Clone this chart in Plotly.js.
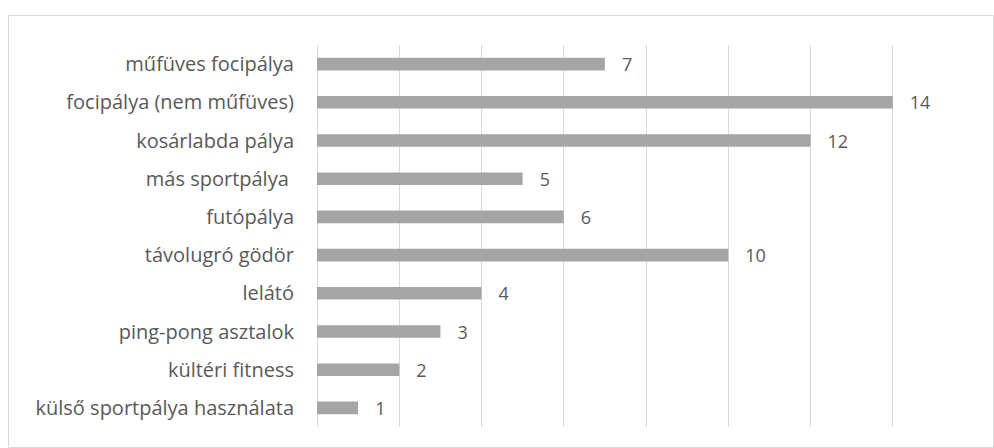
<!DOCTYPE html>
<html>
<head>
<meta charset="utf-8">
<script src="https://cdn.plot.ly/plotly-3.0.1.min.js"></script>
<style>
html,body{margin:0;padding:0;background:#fff;}
#chart{width:994px;height:448px;}
</style>
</head>
<body>
<div id="chart"></div>
<script>
const categories = [
  "műfüves focipálya",
  "focipálya (nem műfüves)",
  "kosárlabda pálya",
  "más sportpálya ",
  "futópálya",
  "távolugró gödör",
  "lelátó",
  "ping-pong asztalok",
  "kültéri fitness",
  "külső sportpálya használata"
];
const values = [7, 14, 12, 5, 6, 10, 4, 3, 2, 1];

const textColor = "#595959";
const fontFam = "'Open Sans', 'Liberation Sans', sans-serif";

const trace = {
  type: "bar",
  orientation: "h",
  y: categories,
  x: values,
  marker: {color: "#a5a5a5"},
  width: 0.33,
  text: values.map(v => "\u00a0\u00a0\u00a0" + v),
  textposition: "outside",
  constraintext: "none",
  cliponaxis: false,
  textfont: {family: fontFam, size: 18, color: textColor},
  hoverinfo: "none"
};

const W = 994, H = 448, L = 317, R = 19, T = 45, B = 21;
const pw = W - L - R, ph = H - T - B;
const px = x => (x - L) / pw;
const py = y => (H - B - y) / ph;

const layout = {
  width: W, height: H,
  margin: {l: L, r: R, t: T, b: B, pad: 0},
  paper_bgcolor: "#ffffff",
  plot_bgcolor: "#ffffff",
  showlegend: false,
  bargap: 0.67,
  uniformtext: {mode: false},
  xaxis: {
    range: [0, 16],
    dtick: 2,
    tick0: 0,
    showticklabels: false,
    showgrid: true,
    gridcolor: "#d9d9d9",
    gridwidth: 1,
    zeroline: true,
    zerolinecolor: "#d9d9d9",
    zerolinewidth: 1,
    showline: false,
    fixedrange: true
  },
  yaxis: {
    autorange: "reversed",
    showgrid: false,
    zeroline: false,
    showline: false,
    ticks: "",
    ticklabelstandoff: 22,
    tickfont: {family: fontFam, size: 20, color: textColor},
    fixedrange: true
  },
  shapes: [{
    type: "rect", xref: "paper", yref: "paper",
    x0: px(8.5), x1: px(993.5), y0: py(447.5), y1: py(15.5),
    line: {color: "#d9d9d9", width: 1}
  }]
};

Plotly.newPlot("chart", [trace], layout, {displayModeBar: false, staticPlot: true});
</script>
</body>
</html>
